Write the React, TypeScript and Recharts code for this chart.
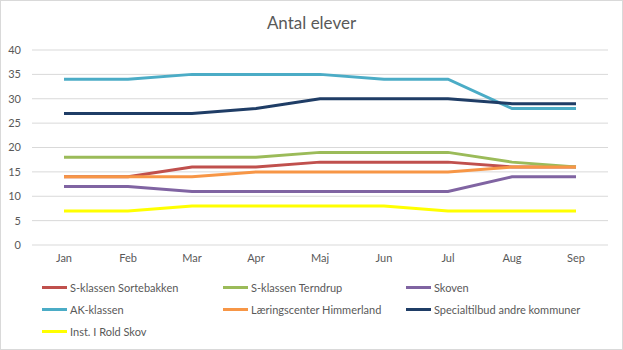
import { LineChart, Line, XAxis, YAxis, CartesianGrid, Legend } from 'recharts'

const months = ['Jan', 'Feb', 'Mar', 'Apr', 'Maj', 'Jun', 'Jul', 'Aug', 'Sep']
const yTicks = [0, 5, 10, 15, 20, 25, 30, 35, 40]

const sortebakken = [14, 14, 16, 16, 17, 17, 17, 16, 16]
const terndrup = [18, 18, 18, 18, 19, 19, 19, 17, 16]
const skoven = [12, 12, 11, 11, 11, 11, 11, 14, 14]
const akKlassen = [34, 34, 35, 35, 35, 34, 34, 28, 28]
const laeringscenter = [14, 14, 14, 15, 15, 15, 15, 16, 16]
const specialtilbud = [27, 27, 27, 28, 30, 30, 30, 29, 29]
const roldSkov = [7, 7, 8, 8, 8, 8, 7, 7, 7]

const series = [
  { key: 's1', name: 'S-klassen Sortebakken', values: sortebakken, color: '#C0504D' },
  { key: 's2', name: 'S-klassen Terndrup', values: terndrup, color: '#9BBB59' },
  { key: 's3', name: 'Skoven', values: skoven, color: '#8064A2' },
  { key: 's4', name: 'AK-klassen', values: akKlassen, color: '#4BACC6' },
  { key: 's5', name: 'Læringscenter Himmerland', values: laeringscenter, color: '#F79646' },
  { key: 's6', name: 'Specialtilbud andre kommuner', values: specialtilbud, color: '#1F3D66' },
  { key: 's7', name: 'Inst. I Rold Skov', values: roldSkov, color: '#FFFF00' },
]

const data = months.map((m, i) => {
  const row: Record<string, string | number> = { month: m }
  series.forEach((s) => (row[s.key] = s.values[i]))
  return row
})

const font = 'Lato, "Open Sans", sans-serif'
const textColor = '#595959'

function LegendGrid() {
  return (
    <div style={{ display: 'grid', gridTemplateColumns: '181px 183px 200px', paddingLeft: 41, paddingTop: 11 }}>
      {series.map((s) => (
        <div key={s.key} style={{ display: 'flex', alignItems: 'center', height: 22, fontFamily: font, fontSize: 11, color: textColor, whiteSpace: 'nowrap' }}>
          <span style={{ display: 'inline-block', width: 25, height: 3, background: s.color, marginRight: 3 }} />
          {s.name}
        </div>
      ))}
    </div>
  )
}

export default function App() {
  return (
    <div style={{ position: 'fixed', left: 0, top: 0, width: 623, height: 350, background: '#fff', boxSizing: 'border-box', border: '1px solid #D9D9D9' }}>
      <div style={{ position: 'absolute', top: 11, left: 0, width: 621, textAlign: 'center', fontFamily: font, fontSize: 17, color: textColor }}>
        Antal elever
      </div>
      <LineChart width={621} height={348} data={data} margin={{ top: 49, right: 14, left: -1, bottom: 0 }}>
        <CartesianGrid vertical={false} stroke="#D9D9D9" />
        <XAxis dataKey="month" axisLine={false} tickLine={false} height={20} tickMargin={3} padding={{ left: 32, right: 32 }} tick={{ fontSize: 11, fill: textColor, fontFamily: font }} />
        <YAxis domain={[0, 40]} ticks={yTicks} width={32} axisLine={false} tickLine={false} tickMargin={5} tick={{ fontSize: 11, fill: textColor, fontFamily: font }} />
        <Legend verticalAlign="bottom" height={84} content={() => <LegendGrid />} wrapperStyle={{ left: 0, width: 621 }} />
        {series.map((s) => (
          <Line key={s.key} type="linear" dataKey={s.key} name={s.name} stroke={s.color} strokeWidth={3} dot={false} isAnimationActive={false} />
        ))}
      </LineChart>
    </div>
  )
}
